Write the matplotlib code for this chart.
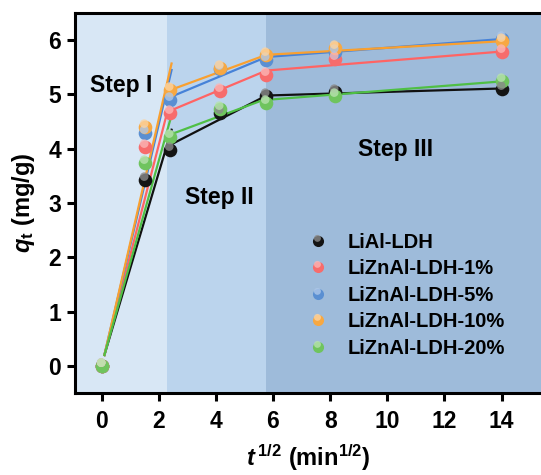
import matplotlib
matplotlib.use("Agg")
import matplotlib.pyplot as plt
from matplotlib.path import Path
from matplotlib.markers import MarkerStyle
from matplotlib.lines import Line2D
from matplotlib.legend_handler import HandlerTuple
import numpy as np

plt.rcParams['font.family'] = ['Liberation Sans', 'DejaVu Sans']
plt.rcParams['font.weight'] = 'bold'
plt.rcParams['mathtext.fontset'] = 'custom'
plt.rcParams['mathtext.rm'] = 'Liberation Sans:bold'
plt.rcParams['mathtext.it'] = 'Liberation Sans:bold:italic'
plt.rcParams['mathtext.bf'] = 'Liberation Sans:bold'

# ---------------- data ----------------
x_pts = [0, 1.52, 2.40, 4.14, 5.77, 8.16, 14.0]
labels = ["LiAl-LDH", "LiZnAl-LDH-1%", "LiZnAl-LDH-5%", "LiZnAl-LDH-10%", "LiZnAl-LDH-20%"]
y_lial = [0, 3.43, 3.98, 4.66, 4.97, 5.05, 5.10]
y_1 = [0, 4.04, 4.65, 5.07, 5.36, 5.65, 5.78]
y_5 = [0, 4.29, 4.90, 5.47, 5.63, 5.78, 6.03]
y_10 = [0, 4.40, 5.08, 5.48, 5.73, 5.85, 5.99]
y_20 = [0, 3.73, 4.22, 4.74, 4.84, 4.98, 5.25]

# piecewise fit lines (step I, II, III)
x_fit1 = [0.10, 2.45]
x_fit2 = [2.40, 5.77]
x_fit3 = [5.77, 14.0]
fit1_lial = [0.2, 4.35]; fit2_lial = [4.07, 4.98]; fit3_lial = [4.98, 5.11]
fit1_1 = [0.2, 4.98];    fit2_1 = [4.70, 5.44];    fit3_1 = [5.44, 5.79]
fit1_5 = [0.2, 5.45];    fit2_5 = [4.95, 5.69];    fit3_5 = [5.69, 6.02]
fit1_10 = [0.2, 5.57];   fit2_10 = [5.08, 5.73];   fit3_10 = [5.73, 5.98]
fit1_20 = [0.2, 4.62];   fit2_20 = [4.26, 4.92];   fit3_20 = [4.90, 5.24]

series = [
    (y_lial, fit1_lial, fit2_lial, fit3_lial, '#141414', '#111111'),
    (y_1, fit1_1, fit2_1, fit3_1, '#f76c6c', '#ff6464'),
    (y_5, fit1_5, fit2_5, fit3_5, '#5a8fd2', '#4682d8'),
    (y_10, fit1_10, fit2_10, fit3_10, '#f7a842', '#f9a030'),
    (y_20, fit1_20, fit2_20, fit3_20, '#6fc45e', '#4fbf45'),
]
step_bounds = [-0.93, 2.3, 5.77, 15.4]
step_colors = ['#d8e7f5', '#bbd4ed', '#9ebbda']

# highlight marker (offset circle inside a fixed box)
circ = Path.circle(center=(-0.12, 0.36), radius=0.40)
verts = np.concatenate([[[-1, -1], [1, 1]], circ.vertices])
codes = np.concatenate([[Path.MOVETO, Path.MOVETO], circ.codes])
hl_marker = MarkerStyle(Path(verts, codes))

def lighten(c, f):
    rgb = np.array(matplotlib.colors.to_rgb(c))
    return tuple(rgb + (1 - rgb) * f)

fig = plt.figure(figsize=(5.41, 4.75), dpi=100)
ax = fig.add_axes([0.1386, 0.1726, 0.8614, 0.80])

for i in range(3):
    ax.axvspan(step_bounds[i], step_bounds[i + 1], color=step_colors[i], lw=0, zorder=0)

handles = []
for (yp, f1, f2, f3, mc, lc) in series:
    ax.plot(x_fit1, f1, color=lc, lw=1.6, zorder=2)
    ax.plot(x_fit2, f2, color=lc, lw=1.6, zorder=2)
    ax.plot(x_fit3, f3, color=lc, lw=1.6, zorder=2)
    ax.plot(x_pts, yp, ls='none', marker='o', ms=9.8, mfc=mc, mec=mc, mew=0, zorder=3)
    hc = lighten(mc, 0.5) if mc != '#141414' else '#8a8a8a'
    ax.plot(x_pts, yp, ls='none', marker=hl_marker, ms=15.5, mfc=hc, mec='none', alpha=0.8, zorder=4)
    h1 = Line2D([], [], ls='none', marker='o', ms=8, mfc=mc, mec=mc, mew=0)
    h2 = Line2D([], [], ls='none', marker=hl_marker, ms=12.5, mfc=hc, mec='none', alpha=0.8)
    handles.append((h1, h2))

ax.set_xlim(-0.93, 15.38)
ax.set_ylim(-0.5, 6.5)
ax.set_xticks(range(0, 15, 2))
ax.set_yticks(range(0, 7))
for s in ['left', 'bottom', 'top']:
    ax.spines[s].set_linewidth(2.2)
ax.spines['right'].set_visible(False)
ax.tick_params(axis='both', direction='out', length=5.5, width=2.2, labelsize=16.5)
ax.tick_params(axis='x', pad=6.5)
ax.tick_params(axis='y', pad=4.5)
for lab in ax.get_xticklabels() + ax.get_yticklabels():
    lab.set_fontweight('bold')

ax.set_xlabel(r'$\mathit{t}^{\,1/2}$ (min$^{1/2}$)', fontsize=17, fontweight='bold', labelpad=7)
ax.set_ylabel(r'$\mathit{q}_{\mathrm{t}}$ (mg/g)', fontsize=17, fontweight='bold', labelpad=8)

ax.text(0.7, 5.17, 'Step I', fontsize=16.5, fontweight='bold', ha='center', va='center', zorder=5)
ax.text(4.14, 3.11, 'Step II', fontsize=16.5, fontweight='bold', ha='center', va='center', zorder=5)
ax.text(10.3, 3.98, 'Step III', fontsize=16.5, fontweight='bold', ha='center', va='center', zorder=5)

leg = ax.legend(handles, labels, handler_map={tuple: HandlerTuple(ndivide=1, pad=0)},
                loc='upper left', bbox_to_anchor=(0.50, 0.4216), frameon=False,
                fontsize=14.5, handlelength=1.0, handletextpad=0.95, labelspacing=0.37,
                borderpad=0, borderaxespad=0)
for t in leg.get_texts():
    t.set_fontweight('bold')

fig.savefig('out.png', dpi=100)
